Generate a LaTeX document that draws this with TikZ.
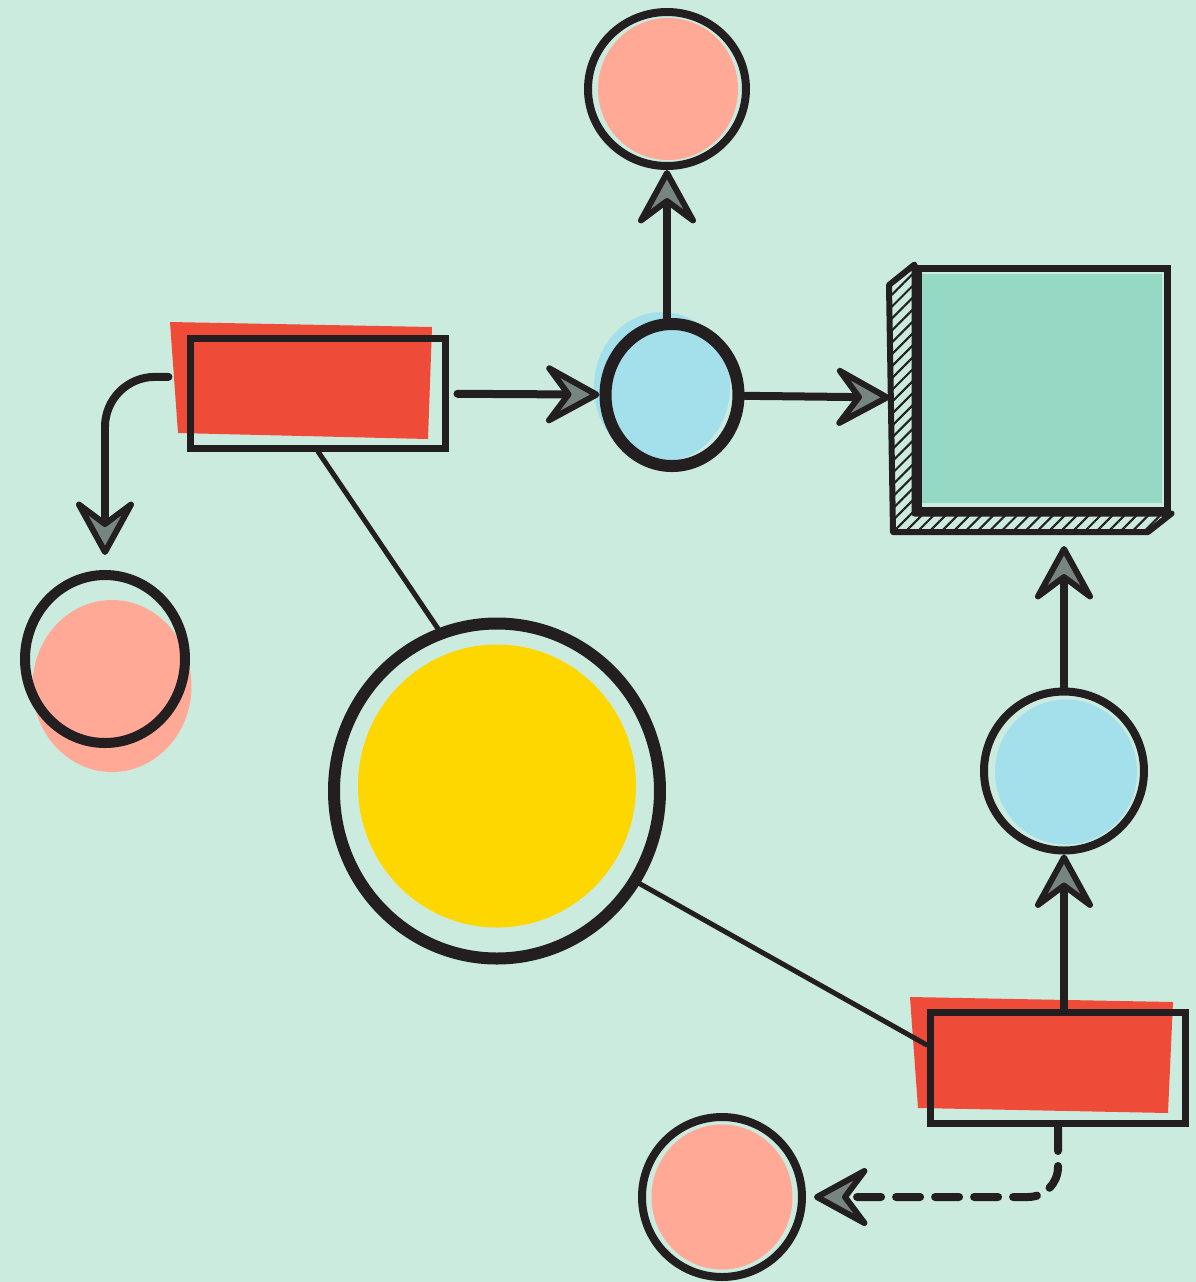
\documentclass[tikz,border=0pt]{standalone}
\usetikzlibrary{shapes,arrows.meta,positioning,calc,patterns.meta}
\usepackage{xcolor}
\definecolor{mintbg}{RGB}{203,235,223}
\definecolor{inkblack}{RGB}{35,31,32}
\definecolor{salmon}{RGB}{255,169,150}
\definecolor{tomatored}{RGB}{238,75,56}
\definecolor{skyblue}{RGB}{164,223,236}
\definecolor{seagreen}{RGB}{149,217,197}
\definecolor{sunyellow}{RGB}{255,215,0}

\begin{document}
\begin{tikzpicture}[x=0.1mm, y=-0.1mm,
    blob/.style={ellipse, inner sep=0pt, draw=none},
    ring/.style={ellipse, inner sep=0pt, draw=inkblack},
    frame/.style={rectangle, inner sep=0pt, draw=inkblack, line width=0.7mm},
    flow/.style={draw=inkblack, line width=0.8mm, line cap=round, -{Stealth[length=6.4mm, width=7mm, inset=2.6mm, line width=0.6mm, round, fill=inkblack!50!mintbg]}},
    tie/.style={draw=inkblack, line width=0.5mm, line cap=round}]
    \useasboundingbox (0,0) rectangle (1196,1282);
    \fill[mintbg] (0,0) rectangle (1196,1282);

    % colour patches
    \node[blob, fill=salmon, minimum width=14mm, minimum height=14.2mm] (topfill) at (668,89) {};
    \node[blob, fill=skyblue, minimum width=13.6mm, minimum height=15mm] (midfill) at (662,387) {};
    \node[blob, fill=salmon, minimum width=15.9mm, minimum height=17.2mm] (leftfill) at (112,686) {};
    \node[blob, fill=sunyellow, minimum width=27.8mm, minimum height=28.3mm] (sunfill) at (497,786) {};
    \node[blob, fill=skyblue, minimum width=14.2mm, minimum height=14.5mm] (rightfill) at (1066,772) {};
    \node[blob, fill=salmon, minimum width=14.1mm, minimum height=14.5mm] (bottomfill) at (722,1197) {};
    \fill[tomatored] (170,322) -- (432,327) -- (428,439) -- (178,433) -- cycle;
    \fill[tomatored] (910,997) -- (1173,1002) -- (1168,1113) -- (918,1108) -- cycle;
    \fill[seagreen] (922,274) rectangle (1162,503);

    % outlines
    \node[ring, line width=0.8mm, minimum width=15.8mm, minimum height=15.4mm] (toppink) at (667,89) {};
    \node[ring, line width=1.2mm, minimum width=13.3mm, minimum height=14.2mm] (midblue) at (672,395) {};
    \node[ring, line width=1mm, minimum width=16mm, minimum height=16.8mm] (leftpink) at (105,659) {};
    \node[ring, line width=1.2mm, minimum width=32.6mm, minimum height=33.5mm] (sun) at (497,791) {};
    \node[ring, line width=0.8mm, minimum width=16mm, minimum height=15.9mm] (rightblue) at (1064,771) {};
    \node[ring, line width=0.8mm, minimum width=16mm, minimum height=16mm] (bottompink) at (722,1197) {};
    \node[frame, minimum width=25.6mm, minimum height=11mm] (card) at (318,393) {};
    \node[frame, minimum width=25.6mm, minimum height=11.1mm] (cardlow) at (1058,1068) {};

    % box with hatched sides
    \node[frame, minimum width=25mm, minimum height=24.2mm] (boxface) at (1043,389) {};
    \node[inner sep=0pt, outer sep=0pt, minimum width=27.8mm, minimum height=26.2mm] (box) at (1029,399) {};
    \draw[draw=inkblack, line width=0.6mm, line join=round, pattern={Lines[angle=45, distance=2.4pt, line width=0.6pt]}, pattern color=inkblack] (boxface.north west) -- (889,285) -- (893,532) -- (1148,532) -- (boxface.south east) -- (boxface.south west) -- cycle;

    % connectors
    \draw[flow, shorten <=0.8mm] (card) -- (midblue);
    \draw[flow] (midblue) -- (box);
    \draw[flow] (toppink.south |- midblue.north) -- (toppink.south);
    \draw[flow, rounded corners=5mm, shorten <=1.8mm, shorten >=1.5mm] (card.173) -| (leftpink.north);
    \draw[tie] (card.south) -- (sun.110);
    \draw[tie] (sun.-33) -- (cardlow.170);
    \draw[flow, shorten >=1.6mm] (rightblue.north) -- (rightblue.north |- box.south);
    \draw[flow] (rightblue.south |- cardlow.north) -- (rightblue.south);
    \draw[flow, dash pattern=on 2.4mm off 1.5mm, rounded corners=3mm, shorten >=0.8mm] (cardlow.south) |- (bottompink.east);
\end{tikzpicture}
\end{document}
